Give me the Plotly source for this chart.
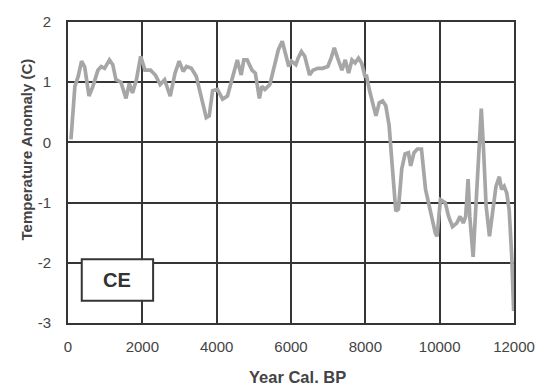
import plotly.graph_objects as go

years = [80, 185, 275, 365, 450, 565, 670, 805, 895, 985, 1115, 1205, 1290, 1425, 1560, 1650,
         1735, 1840, 1955, 2070, 2220, 2350, 2480, 2600, 2750, 2880, 2990, 3100, 3190, 3320,
         3450, 3580, 3720, 3800, 3890, 4020, 4160, 4290, 4420, 4555, 4660, 4730, 4820, 4950,
         5040, 5150, 5215, 5300, 5430, 5570, 5660, 5765, 5860, 5940, 6010, 6130, 6190, 6280,
         6370, 6500, 6590, 6720, 6850, 6990, 7080, 7165, 7255, 7370, 7460, 7550, 7640, 7725,
         7815, 7900, 7990, 8035, 8110, 8200, 8285, 8375, 8465, 8550, 8640, 8730, 8820, 8890,
         8980, 9070, 9160, 9220, 9310, 9400, 9510, 9620, 9750, 9885, 9930, 10020, 10150, 10240,
         10345, 10460, 10550, 10635, 10700, 10765, 10810, 10900, 10960, 11050, 11120, 11180,
         11250, 11340, 11425, 11515, 11605, 11665, 11735, 11805, 11870, 11940, 11990]
temps = [0.05, 0.93, 1.1, 1.35, 1.25, 0.77, 0.93, 1.2, 1.26, 1.23, 1.37, 1.29, 1.04, 1.0, 0.73, 0.98,
         0.82, 1.04, 1.43, 1.2, 1.2, 1.12, 0.96, 1.04, 0.77, 1.15, 1.35, 1.18, 1.26, 1.23,
         1.1, 0.77, 0.41, 0.44, 0.86, 0.88, 0.72, 0.77, 1.04, 1.37, 1.12, 1.37, 1.37, 1.2,
         1.15, 0.73, 0.93, 0.88, 0.96, 1.35, 1.54, 1.68, 1.45, 1.26, 1.35, 1.29, 1.4, 1.51,
         1.43, 1.12, 1.2, 1.23, 1.23, 1.26, 1.4, 1.57, 1.4, 1.2, 1.37, 1.15, 1.37, 1.32,
         1.4, 1.32, 1.1, 1.1, 0.87, 0.66, 0.44, 0.66, 0.69, 0.61, 0.28, -0.44, -1.14, -1.11,
         -0.44, -0.19, -0.17, -0.39, -0.17, -0.11, -0.11, -0.78, -1.17, -1.51, -1.56, -0.95, -1.0, -1.23,
         -1.4, -1.34, -1.23, -1.34, -1.23, -0.61, -1.23, -1.9, -1.23, -0.22, 0.56, -0.11,
         -1.06, -1.56, -1.12, -0.73, -0.57, -0.78, -0.73, -0.84, -1.12, -1.9, -2.8]

x_ticks = [0, 2000, 4000, 6000, 8000, 10000, 12000]
y_ticks = [-3, -2, -1, 0, 1, 2]
label = "CE"
x_title = "Year Cal. BP"
y_title = "Temperature Anomaly (C)"

FONT = "Liberation Sans, Arial, sans-serif"
grid_col = "#353535"
tick_font = dict(family=FONT, size=15, color="#444444")

fig = go.Figure()
fig.add_trace(go.Scatter(x=years, y=temps, mode="lines",
                         line=dict(color="#a6a6a6", width=3.7), showlegend=False))

fig.add_shape(type="rect", xref="x", yref="y", x0=370, x1=2290, y0=-2.63, y1=-1.94,
              line=dict(color=grid_col, width=2), fillcolor="white", layer="above")
fig.add_annotation(x=1330, y=-2.285, xref="x", yref="y", text="<b>%s</b>" % label,
                   showarrow=False, font=dict(family=FONT, size=20, color="#333333"))

fig.add_annotation(x=0.514, y=-0.178, xref="paper", yref="paper", text="<b>%s</b>" % x_title,
                   showarrow=False, xanchor="center", yanchor="middle",
                   font=dict(family=FONT, size=16.5, color="#444444"))
fig.add_annotation(x=-0.093, y=0.575, xref="paper", yref="paper", text="<b>%s</b>" % y_title,
                   showarrow=False, xanchor="center", yanchor="middle", textangle=-90,
                   font=dict(family=FONT, size=15, color="#444444"))

fig.update_xaxes(range=[0, 12000], tickvals=x_ticks, ticktext=[str(v) for v in x_ticks],
                 showgrid=True, gridcolor=grid_col, gridwidth=2, zeroline=False,
                 showline=True, linecolor=grid_col, linewidth=2, mirror=True,
                 ticks="outside", ticklen=9, tickcolor="rgba(0,0,0,0)",
                 tickfont=tick_font)
fig.update_yaxes(range=[-3, 2], tickvals=y_ticks, ticktext=[str(v) for v in y_ticks],
                 showgrid=True, gridcolor=grid_col, gridwidth=2, zeroline=False,
                 showline=True, linecolor=grid_col, linewidth=2, mirror=True,
                 ticks="outside", ticklen=12, tickcolor="rgba(0,0,0,0)",
                 tickfont=tick_font)

fig.update_layout(width=547, height=389, margin=dict(l=68, r=28, t=22, b=66),
                  plot_bgcolor="white", paper_bgcolor="white")

fig.write_html("out.html")
